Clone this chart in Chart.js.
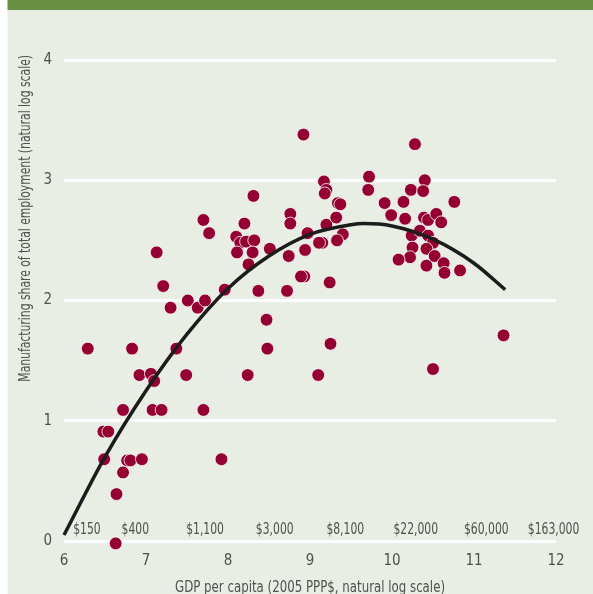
<!DOCTYPE html>
<html><head><meta charset="utf-8">
<script src="https://cdn.jsdelivr.net/npm/chart.js@4.4.1/dist/chart.umd.min.js"></script>
<style>html,body{margin:0;padding:0;background:#fff;}</style>
</head><body>
<canvas id="c" width="593" height="594"></canvas>
<script>
// GDP per capita (natural log) for each country
const gdpLog = [6.29,6.83,7.37,6.92,7.06,7.10,7.49,6.72,7.08,7.19,7.70,6.48,6.54,6.49,6.77,6.81,6.95,7.92,6.72,6.64,6.63,
  7.70,7.77,7.13,7.21,7.30,7.51,7.63,7.72,7.96,8.92,9.17,9.20,9.18,9.34,9.37,8.31,8.20,8.76,8.76,8.10,8.15,8.22,8.32,8.11,8.30,8.25,8.51,
  8.97,9.20,9.32,9.40,9.33,9.15,9.11,8.74,8.94,8.93,8.89,9.24,8.37,8.72,8.47,8.48,9.25,8.24,9.10,
  10.28,9.72,9.71,10.40,10.23,10.38,9.91,10.14,10.76,9.99,10.16,10.39,10.44,10.54,10.60,10.24,10.34,10.44,10.50,10.25,10.42,10.22,10.08,10.52,10.42,10.63,10.64,10.83,11.36,10.50];
// Manufacturing share of total employment (natural log)
const mfgLog = [1.60,1.60,1.60,1.38,1.39,1.33,1.38,1.09,1.09,1.09,1.09,0.91,0.91,0.68,0.67,0.67,0.68,0.68,0.57,0.39,-0.02,
  2.67,2.56,2.40,2.12,1.94,2.00,1.94,2.00,2.09,3.38,2.99,2.92,2.89,2.81,2.80,2.87,2.64,2.72,2.64,2.53,2.48,2.49,2.50,2.40,2.40,2.30,2.43,
  2.56,2.63,2.69,2.55,2.50,2.48,2.48,2.37,2.42,2.20,2.20,2.15,2.08,2.08,1.84,1.60,1.64,1.38,1.38,
  3.30,3.03,2.92,3.00,2.92,2.91,2.81,2.82,2.82,2.71,2.68,2.69,2.67,2.72,2.65,2.54,2.58,2.54,2.48,2.44,2.43,2.36,2.34,2.37,2.29,2.31,2.23,2.25,1.71,1.43];
// Fitted curve
const fitX = [6.0,6.5,7.0,7.5,8.0,8.5,9.0,9.5,9.65,10.0,10.5,11.0,11.38];
const fitY = [0.05,0.70,1.25,1.72,2.10,2.37,2.55,2.63,2.64,2.62,2.51,2.31,2.09];
// Dollar annotations along the bottom
const dollarLabels = ['$150','$400','$1,100','$3,000','$8,100','$22,000','$60,000','$163,000'];
const dollarPos = [6.28,6.87,7.72,8.57,9.43,10.29,11.15,11.97];
const dollarY = 0.09;
const xTitle = 'GDP per capita (2005 PPP$, natural log scale)';
const yTitle = 'Manufacturing share of total employment (natural log scale)';

const FONT = "'Liberation Sans Narrow','Arial Narrow','DejaVu Sans Condensed',sans-serif";
const TXT = '#505050';

const scatterData = gdpLog.map((x,i)=>({x:x,y:mfgLog[i]}));
const fitData = fitX.map((x,i)=>({x:x,y:fitY[i]}));

function narrowText(ctx, text, x, y, sx){
  ctx.save();
  ctx.translate(x, y);
  ctx.scale(sx, 1);
  ctx.fillText(text, 0, 0);
  ctx.restore();
}

const decor = {
  id:'decor',
  beforeDraw(chart){
    const ctx = chart.ctx;
    ctx.save();
    ctx.fillStyle = '#ffffff';
    ctx.fillRect(0,0,chart.width,chart.height);
    ctx.fillStyle = '#e9eee4';
    ctx.fillRect(7.5,10,chart.width-7.5,chart.height-10);
    ctx.fillStyle = '#668f42';
    ctx.fillRect(7.5,0,chart.width-7.5,10);
    ctx.restore();
  },
  afterDraw(chart){
    const ctx = chart.ctx, xs = chart.scales.x, ys = chart.scales.y;
    ctx.save();
    ctx.fillStyle = TXT;
    ctx.font = '16px ' + FONT;
    ctx.textAlign = 'center';
    ctx.textBaseline = 'middle';
    dollarLabels.forEach((t,i)=>{
      narrowText(ctx, t, xs.getPixelForValue(dollarPos[i]), ys.getPixelForValue(dollarY), 0.75);
    });
    narrowText(ctx, xTitle, (chart.chartArea.left+chart.chartArea.right)/2, 588, 0.82);
    ctx.translate(26, 55);
    ctx.rotate(-Math.PI/2);
    ctx.scale(0.75, 1);
    ctx.textAlign = 'right';
    ctx.fillText(yTitle, 0, 0);
    ctx.restore();
  }
};

new Chart(document.getElementById('c'), {
  type:'scatter',
  data:{datasets:[
    {type:'line', data:fitData, borderColor:'#1c1c1c', borderWidth:3.5, pointRadius:0, tension:0.4, cubicInterpolationMode:'monotone', fill:false, order:0, clip:false},
    {data:scatterData, backgroundColor:'#930031', borderColor:'#ffffff', borderWidth:0.8, pointRadius:6.4, pointHoverRadius:6.4, order:1, clip:false}
  ]},
  options:{
    responsive:false, animation:false, devicePixelRatio:1,
    layout:{padding:{left:0,right:37,top:60,bottom:0}},
    plugins:{legend:{display:false}, tooltip:{enabled:false}},
    scales:{
      x:{type:'linear', min:6, max:12,
        ticks:{stepSize:1, color:TXT, font:{family:FONT,size:15}, padding:11},
        grid:{display:false, drawTicks:false}, border:{display:false},
        afterFit(s){ s.height = 53; }
      },
      y:{type:'linear', min:0, max:4,
        ticks:{stepSize:1, color:TXT, font:{family:FONT,size:15}, padding:12},
        grid:{color:'#ffffff', lineWidth:3, drawTicks:false}, border:{display:false},
        afterFit(s){ s.width = 64; }
      }
    }
  },
  plugins:[decor]
});
</script>
</body></html>
